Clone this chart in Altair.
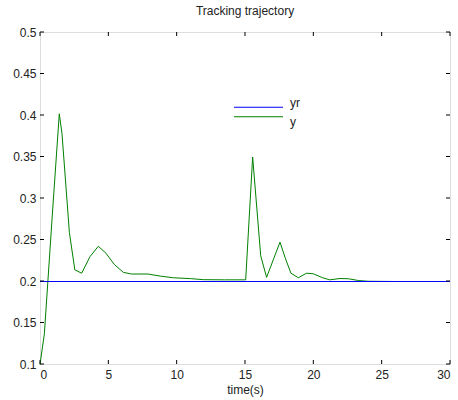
import altair as alt
import pandas as pd

# Data
t_y = [0, 0.32, 0.9, 1.41, 1.61, 2.15, 2.55, 3.05, 3.66, 4.27, 4.83, 5.44, 6.1, 6.7,
       7.9, 8.8, 9.75, 11.0, 11.95, 13.5, 15.05, 15.56, 16.15, 16.58, 17.56, 17.93,
       18.36, 18.9, 19.5, 19.99, 20.68, 21.2, 21.95, 22.56, 23.3, 24.0, 26.0, 28.0, 30.0]
y_vals = [0.1, 0.137, 0.28, 0.402, 0.378, 0.259, 0.214, 0.21, 0.23, 0.2425, 0.234, 0.2205,
          0.211, 0.209, 0.209, 0.2065, 0.2045, 0.2035, 0.2022, 0.202, 0.202, 0.35, 0.231,
          0.205, 0.2474, 0.229, 0.21, 0.2045, 0.21, 0.2093, 0.2045, 0.202, 0.2036, 0.2033,
          0.2012, 0.2003, 0.2, 0.2, 0.2]
t_yr = [0, 30]
yr_vals = [0.2, 0.2]
series = ["yr", "y"]
colors = ["#0000ff", "#008000"]
x_ticks = [0, 5, 10, 15, 20, 25, 30]
y_ticks = [0.1, 0.15, 0.2, 0.25, 0.3, 0.35, 0.4, 0.45, 0.5]

W, H = 410, 332
FONT = "Liberation Sans"

df = pd.concat([
    pd.DataFrame({"t": t_y, "v": y_vals, "s": "y", "o": 1}),
    pd.DataFrame({"t": t_yr, "v": yr_vals, "s": "yr", "o": 2}),
])

xs = alt.Scale(domain=[0, 30], nice=False, zero=False)
ys = alt.Scale(domain=[0.1, 0.5], nice=False, zero=False)
cs = alt.Scale(domain=series, range=colors)

lines = alt.Chart(df).mark_line(strokeWidth=1, yOffset=0.5).encode(
    x=alt.X("t:Q", scale=xs, title="time(s)",
            axis=alt.Axis(values=x_ticks, tickSize=0, labelPadding=5, domain=False,
                          grid=False, titlePadding=4, labelFontSize=12, titleFontSize=12,
                          titleFontWeight="normal", labelFont=FONT, titleFont=FONT,
                          labelColor="#222", titleColor="#222")),
    y=alt.Y("v:Q", scale=ys, title=None,
            axis=alt.Axis(values=y_ticks, tickSize=0, labelPadding=4, domain=False,
                          grid=False, labelFontSize=12, labelFont=FONT,
                          labelColor="#222", format="~g")),
    color=alt.Color("s:N", scale=cs, legend=None),
    detail="s:N",
    order="o:Q",
)

# legend (inside plot, no box), rows placed by a point scale
leg = pd.DataFrame({"s": series})
legy = alt.Scale(domain=series, range=[70.5, 89.5], padding=0)
leg_lines = alt.Chart(leg).mark_rule(strokeWidth=1).encode(
    y=alt.Y("s:N", scale=legy, axis=None),
    x=alt.value(194), x2=alt.value(243),
    color=alt.Color("s:N", scale=cs, legend=None),
)
leg_text = alt.Chart(leg).mark_text(align="left", baseline="middle", font=FONT,
                                    fontSize=12, color="#222", dy=0).encode(
    y=alt.Y("s:N", scale=legy, axis=None),
    x=alt.value(250),
    text="s:N",
)

xt = pd.DataFrame({"t": x_ticks})
yt = pd.DataFrame({"v": y_ticks})

xticks_bottom = alt.Chart(xt).mark_rule(color="black").encode(
    x=alt.X("t:Q", scale=xs), y=alt.value(H), y2=alt.value(H - 4))
xticks_top = alt.Chart(xt).mark_rule(color="black").encode(
    x=alt.X("t:Q", scale=xs), y=alt.value(0), y2=alt.value(4))
yticks_left = alt.Chart(yt).mark_rule(color="black").encode(
    y=alt.Y("v:Q", scale=ys, axis=None), x=alt.value(0), x2=alt.value(4))
yticks_right = alt.Chart(yt).mark_rule(color="black").encode(
    y=alt.Y("v:Q", scale=ys, axis=None), x=alt.value(W), x2=alt.value(W - 4))

chart = alt.layer(lines, xticks_bottom, xticks_top, yticks_left, yticks_right,
                  leg_lines, leg_text).resolve_scale(y="independent").properties(
    width=W, height=H,
    title=alt.TitleParams("Tracking trajectory", fontSize=12, font=FONT, fontWeight="normal",
                          color="#222", anchor="middle", offset=8),
    autosize=alt.AutoSizeParams(type="none"),
    padding={"left": 40, "top": 32, "right": 8, "bottom": 36},
).configure_view(stroke="black", strokeWidth=1).configure(background="white")

chart.save("out.html", embed_options={"renderer": "svg", "actions": False})
